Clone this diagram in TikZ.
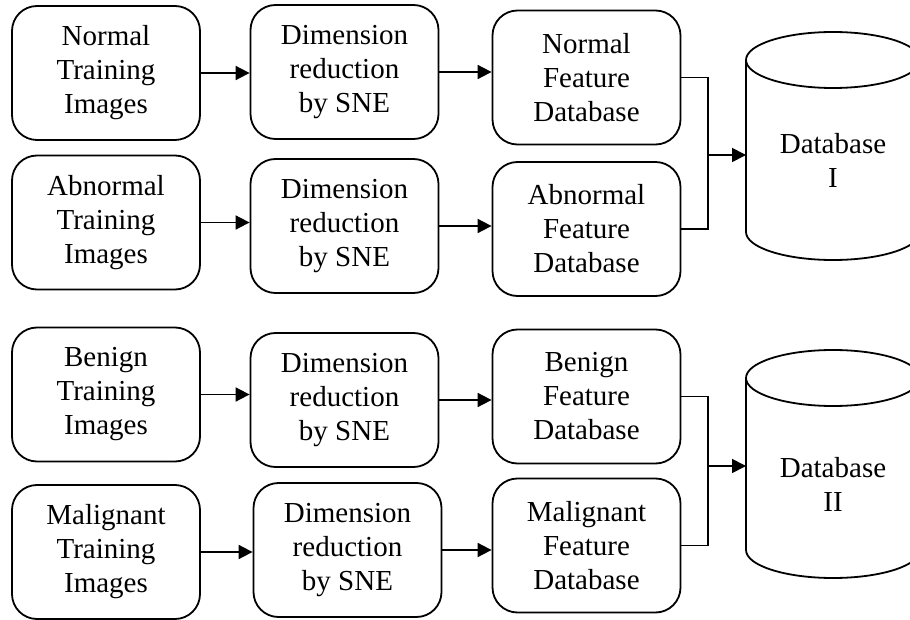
\documentclass[tikz,border=0pt]{standalone}
\usepackage{fontspec}
\setmainfont{Liberation Serif}
\usetikzlibrary{arrows.meta}
\begin{document}
\begin{tikzpicture}[x=1pt,y=1pt,
  box/.style={draw, line width=1.8pt, rounded corners=25pt, minimum width=188pt, minimum height=134pt, align=center, inner sep=0pt, font=\fontsize{29}{34}\selectfont},
  arr/.style={line width=1.8pt, -{Triangle[length=14pt,width=14pt]}},
  ln/.style={line width=1.8pt},
  cyl/.style={line width=1.8pt},
  lbl/.style={align=center, font=\fontsize{29}{34}\selectfont}]
\useasboundingbox (0,0) rectangle (910,-620);
\clip (0,0) rectangle (910,-620);
% row 1
\node[box] (n1) at (106,-73) {Normal\\Training\\Images};
\node[box] (d1) at (344.5,-72) {Dimension\\reduction\\by SNE};
\node[box] (f1) at (586.5,-77.5) {Normal\\Feature\\Database};
% row 2
\node[box] (n2) at (106,-222.5) {Abnormal\\Training\\Images};
\node[box] (d2) at (344.5,-226) {Dimension\\reduction\\by SNE};
\node[box] (f2) at (586.5,-229) {Abnormal\\Feature\\Database};
% row 3
\node[box] (n3) at (106,-394.5) {Benign\\Training\\Images};
\node[box] (d3) at (344.5,-400) {Dimension\\reduction\\by SNE};
\node[box] (f3) at (586.5,-396.5) {Benign\\Feature\\Database};
% row 4
\node[box] (n4) at (106,-552) {Malignant\\Training\\Images};
\node[box] (d4) at (347.5,-550) {Dimension\\reduction\\by SNE};
\node[box] (f4) at (586.5,-545.5) {Malignant\\Feature\\Database};
% cylinders
\draw[cyl] (746,-60) -- (746,-232) arc[start angle=180,end angle=360,x radius=87,y radius=28] -- (920,-60);
\draw[cyl] (833,-60) ellipse[x radius=87,y radius=28];
\node[lbl] (db1) at (833,-160) {Database\\I};
\coordinate (db1in) at (746,-155);
\draw[cyl] (746,-378) -- (746,-550) arc[start angle=180,end angle=360,x radius=87,y radius=28] -- (920,-378);
\draw[cyl] (833,-378) ellipse[x radius=87,y radius=28];
\node[lbl] (db2) at (833,-484) {Database\\II};
\coordinate (db2in) at (746,-466);
% arrows
\draw[arr] (n1.east) -- (n1.east -| d1.west);
\draw[arr] (d1.east) -- (d1.east -| f1.west);
\draw[arr] (n2.east) -- (n2.east -| d2.west);
\draw[arr] (d2.east) -- (d2.east -| f2.west);
\draw[arr] (n3.east) -- (n3.east -| d3.west);
\draw[arr] (d3.east) -- (d3.east -| f3.west);
\draw[arr] (n4.east) -- (n4.east -| d4.west);
\draw[arr] (d4.east) -- (d4.east -| f4.west);
% joins
\coordinate (j1) at (708,-155);
\coordinate (j2) at (708,-466);
\draw[ln] (f1.east) -| (j1);
\draw[ln] (f2.east) -| (j1);
\draw[arr] (j1) -- (db1in);
\draw[ln] (f3.east) -| (j2);
\draw[ln] (f4.east) -| (j2);
\draw[arr] (j2) -- (db2in);
\end{tikzpicture}
\end{document}
